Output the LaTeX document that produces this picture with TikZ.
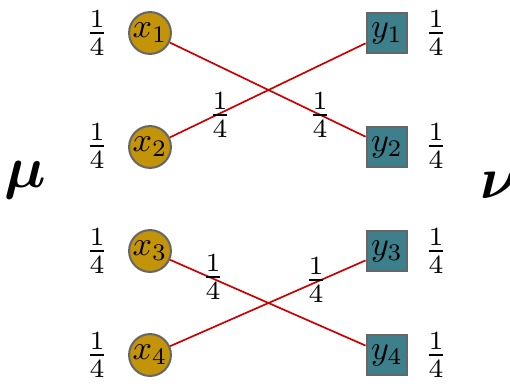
\documentclass[tikz,border=0pt]{standalone}
\usepackage{amsmath,bm}
\definecolor{gold}{RGB}{196,148,8}
\definecolor{teal2}{RGB}{62,127,140}
\definecolor{edgered}{RGB}{204,0,0}
\newcommand{\qfrac}{\scalebox{1.1}{$\frac14$}}
\begin{document}
\begin{tikzpicture}[x=0.294pt,y=-0.294pt,
  src/.style={circle,draw=black!60,line width=0.6pt,fill=gold,minimum size=12.3pt,inner sep=0pt},
  dst/.style={rectangle,draw=black!60,line width=0.6pt,fill=teal2,minimum size=12pt,inner sep=0pt},
  mass/.style={inner sep=0pt},
  flow/.style={draw=edgered,line width=0.5pt},
  wlab/.style={inner sep=0pt}]
\useasboundingbox (0,0) rectangle (510,385);
\node[src] (x1) at (150,33) {$x_1$};
\node[src] (x2) at (150,147) {$x_2$};
\node[src] (x3) at (150,251) {$x_3$};
\node[src] (x4) at (150,355) {$x_4$};
\node[dst] (y1) at (387,33) {$y_1$};
\node[dst] (y2) at (387,147) {$y_2$};
\node[dst] (y3) at (387,251) {$y_3$};
\node[dst] (y4) at (387,355) {$y_4$};
\node[mass] (a1) at (97,33) {\qfrac};
\node[mass] (a2) at (97,146) {\qfrac};
\node[mass] (a3) at (97,251) {\qfrac};
\node[mass] (a4) at (97,355) {\qfrac};
\node[mass] (b1) at (436,33) {\qfrac};
\node[mass] (b2) at (436,146) {\qfrac};
\node[mass] (b3) at (436,251) {\qfrac};
\node[mass] (b4) at (436,355) {\qfrac};
\draw[flow] (x1) -- (y2);
\draw[flow] (x2) -- (y1);
\draw[flow] (x3) -- (y4);
\draw[flow] (x4) -- (y3);
\node[wlab] (w21) at (220,115) {\qfrac};
\node[wlab] (w12) at (320,115) {\qfrac};
\node[wlab] (w34) at (213,277) {\qfrac};
\node[wlab] (w43) at (316,280) {\qfrac};
\node (mu) at (25,180) {\fontsize{16}{18}\selectfont$\bm{\mu}$};
\node (nu) at (499,185) {\fontsize{16}{18}\selectfont$\bm{\nu}$};
\end{tikzpicture}
\end{document}
